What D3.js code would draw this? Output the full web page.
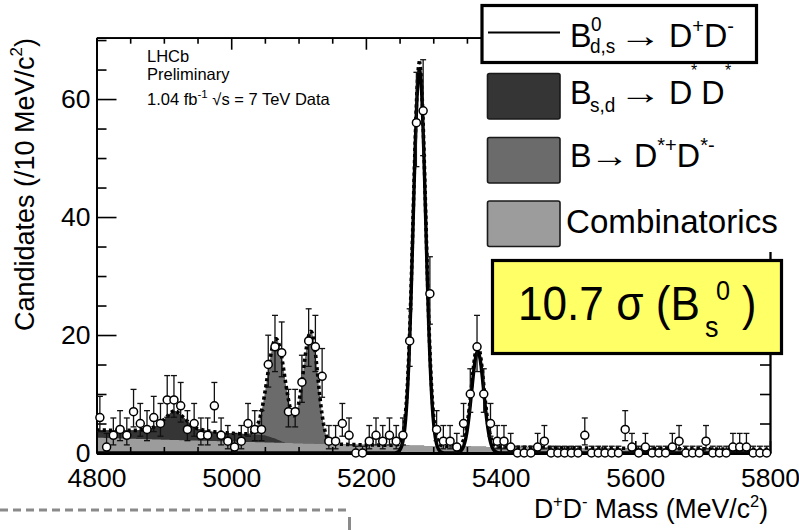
<!DOCTYPE html>
<html><head><meta charset="utf-8">
<script src="https://cdn.jsdelivr.net/npm/d3@7"></script>
<style>
html,body{margin:0;padding:0;background:#fff;}
svg{display:block;font-family:"Liberation Sans",Arial,Helvetica,sans-serif;}
</style></head><body>
<svg id="chart" width="799" height="530"></svg>
<script>
// ---- Data: D+D- invariant mass, 10 MeV/c^2 bins, 4800-5800 ----
const massRange = [4800, 5800];
const binWidth = 10;
const counts = [
  6, 1, 3, 4, 3, 7, 5, 4, 6, 5,
  9, 9, 8, 4, 5, 3, 3, 8, 3, 2,
  1, 2, 5, 4, 4, 15, 18, 17, 7, 7,
  12, 19, 18, 13, 2, 2, 5, 3, 0, 0,
  2, 3, 2, 3, 2, 3, 19, 56, 58, 27,
  4, 2, 2, 1, 5, 10, 18, 10, 5, 2,
  2, 1, 0, 0, 0, 1, 2, 0, 0, 0,
  0, 0, 3, 0, 0, 0, 0, 0, 4, 1,
  0, 1, 0, 0, 0, 1, 2, 0, 0, 0,
  2, 0, 0, 0, 1, 1, 1, 0, 0, 0
];

// ---- Fit components (candidates per 10 MeV/c^2) ----
// Combinatorial background level
const combMass  = [4800, 4900, 5000, 5100, 5200, 5300, 5400, 5500, 5600, 5700, 5800];
const combLevel = [2.6, 2.25, 1.95, 1.65, 1.38, 1.18, 1.0, 0.88, 0.78, 0.7, 0.62];
// Partially reconstructed B(s,d) -> D* D* component
const dsdMass  = [4800, 4830, 4860, 4880, 4890, 4900, 4910, 4915, 4920, 4930, 4940, 4950, 4970, 5000, 5030, 5050, 5065, 5080];
const dsdLevel = [1.3, 1.35, 1.45, 1.8, 2.4, 3.4, 4.6, 5.0, 4.8, 3.8, 2.7, 2.0, 1.6, 1.4, 1.3, 1.2, 0.7, 0];
// B -> D*+ D*- reflection peaks (asymmetric widths: low side, high side)
const dstarMass   = [5067, 5118.5];
const dstarSigmaL = [13, 12];
const dstarSigmaR = [13.5, 10];
const dstarHeight = [17, 19];
// B0 and Bs -> D+ D- signal peaks
const sigMass   = [5279.5, 5366];
const sigSigma  = [9.3, 9.0];
const sigHeight = [65, 17.2];

const yTop = 70.4;
const xMajor = [4800, 5000, 5200, 5400, 5600, 5800];
const yMajor = [0, 20, 40, 60];

// ---- Helpers ----
const gauss = (m, mu, s, h) => h * Math.exp(-0.5 * ((m - mu) / s) ** 2);
const bifurGauss = (m, mu, sl, sr, h) => gauss(m, mu, m < mu ? sl : sr, h);
const combAt = d3.scaleLinear().domain(combMass).range(combLevel).clamp(true);
const dsdAt  = d3.scaleLinear().domain(dsdMass).range(dsdLevel).clamp(true);
const dstarAt = m => d3.sum(dstarMass, (mu, i) => bifurGauss(m, mu, dstarSigmaL[i], dstarSigmaR[i], dstarHeight[i]));
const sigAt   = m => d3.sum(sigMass, (mu, i) => gauss(m, mu, sigSigma[i], sigHeight[i]));

// 68% Poisson interval (Gehrels approximation; RooFit convention for n = 0)
const poissonHi = n => n === 0 ? 1.148 : n + Math.sqrt(n + 0.75) + 1;
const poissonLo = n => n === 0 ? 0 : n * Math.pow(1 - 1 / (9 * n) - 1 / (3 * Math.sqrt(n)), 3);

// ---- Frame ----
const X0 = 96.5, X1 = 770, Y0 = 37.7, Y1 = 453;
const svg = d3.select('#chart');
const x = d3.scaleLinear().domain(massRange).range([X0, X1]);
const y = d3.scaleLinear().domain([0, yTop]).range([Y1, Y0]);

svg.append('defs').append('clipPath').attr('id', 'plotclip')
  .append('rect').attr('x', X0).attr('y', Y0).attr('width', X1 - X0).attr('height', Y1 - Y0);

const grid = d3.range(massRange[0], massRange[1] + 0.01, 1);
const model = grid.map(m => {
  const c = combAt(m), d = dsdAt(m), s = dstarAt(m), g = sigAt(m);
  return {m, comb: c, dsd: c + d, dstar: c + d + s, total: c + d + s + g, sig: g};
});

const plot = svg.append('g').attr('clip-path', 'url(#plotclip)');
const area = key => d3.area().x(d => x(d.m)).y0(y(0)).y1(d => y(d[key]));
plot.append('path').datum(model).attr('d', area('dstar')).attr('fill', '#6b6b6b');
plot.append('path').datum(model).attr('d', area('dsd')).attr('fill', '#353535');
plot.append('path').datum(model).attr('d', area('comb')).attr('fill', '#9c9c9c');

const line = key => d3.line().x(d => x(d.m)).y(d => y(d[key]));
plot.append('path').datum(model).attr('d', line('sig'))
  .attr('fill', 'none').attr('stroke', '#000').attr('stroke-width', 3.4);
plot.append('path').datum(model).attr('d', line('total'))
  .attr('fill', 'none').attr('stroke', '#000').attr('stroke-width', 3.6)
  .attr('stroke-dasharray', '3.2,3');

// ---- Axes ----
const xMinor = d3.range(massRange[0], massRange[1] + 1, 50).filter(v => !xMajor.includes(v));
const yMinor = d3.range(0, yTop, 5).filter(v => !yMajor.includes(v));

function styleAxis(g, width) {
  g.select('.domain').attr('stroke', '#000').attr('stroke-width', width);
  g.selectAll('.tick line').attr('stroke', '#000').attr('stroke-width', 1.6);
  g.selectAll('.tick text').attr('font-size', 26.5).attr('fill', '#000')
    .attr('font-family', '"Liberation Sans",Arial,sans-serif');
}
// bottom
const gB = svg.append('g').attr('transform', `translate(0,${Y1})`)
  .call(d3.axisBottom(x).tickValues(xMajor).tickSize(-12).tickSizeOuter(0)
    .tickPadding(15).tickFormat(d3.format('d')));
styleAxis(gB, 3);
const gBm = svg.append('g').attr('transform', `translate(0,${Y1})`)
  .call(d3.axisBottom(x).tickValues(xMinor).tickSize(-6).tickSizeOuter(0).tickFormat(''));
styleAxis(gBm, 3);
// top
const gT = svg.append('g').attr('transform', `translate(0,${Y0})`)
  .call(d3.axisTop(x).tickValues(xMajor).tickSize(-12).tickSizeOuter(0).tickFormat(''));
styleAxis(gT, 1.8);
const gTm = svg.append('g').attr('transform', `translate(0,${Y0})`)
  .call(d3.axisTop(x).tickValues(xMinor).tickSize(-6).tickSizeOuter(0).tickFormat(''));
styleAxis(gTm, 1.8);
// left
const gL = svg.append('g').attr('transform', `translate(${X0},0)`)
  .call(d3.axisLeft(y).tickValues(yMajor).tickSize(-20).tickSizeOuter(0)
    .tickPadding(6).tickFormat(d3.format('d')));
styleAxis(gL, 1.8);
const gLm = svg.append('g').attr('transform', `translate(${X0},0)`)
  .call(d3.axisLeft(y).tickValues(yMinor).tickSize(-10).tickSizeOuter(0).tickFormat(''));
styleAxis(gLm, 1.8);
// right
const gR = svg.append('g').attr('transform', `translate(${X1},0)`)
  .call(d3.axisRight(y).tickValues(yMajor).tickSize(-20).tickSizeOuter(0).tickFormat(''));
styleAxis(gR, 1.8);
const gRm = svg.append('g').attr('transform', `translate(${X1},0)`)
  .call(d3.axisRight(y).tickValues(yMinor).tickSize(-10).tickSizeOuter(0).tickFormat(''));
styleAxis(gRm, 1.8);

// ---- Data points with Poisson error bars ----
const pts = counts.map((n, i) => ({m: massRange[0] + binWidth * (i + 0.5), n}));
const gp = svg.append('g');
const bars = gp.selectAll('g.pt').data(pts).join('g').attr('class', 'pt');
bars.append('line')
  .attr('x1', d => x(d.m)).attr('x2', d => x(d.m))
  .attr('y1', d => y(poissonLo(d.n))).attr('y2', d => y(poissonHi(d.n)))
  .attr('stroke', '#111').attr('stroke-width', 1.3);
bars.append('line')
  .attr('x1', d => x(d.m) - 3).attr('x2', d => x(d.m) + 3)
  .attr('y1', d => y(poissonHi(d.n))).attr('y2', d => y(poissonHi(d.n)))
  .attr('stroke', '#111').attr('stroke-width', 1.3);
bars.filter(d => d.n > 0).append('line')
  .attr('x1', d => x(d.m) - 3).attr('x2', d => x(d.m) + 3)
  .attr('y1', d => y(poissonLo(d.n))).attr('y2', d => y(poissonLo(d.n)))
  .attr('stroke', '#111').attr('stroke-width', 1.3);
bars.append('circle')
  .attr('cx', d => x(d.m)).attr('cy', d => y(d.n)).attr('r', 4)
  .attr('fill', '#fff').attr('stroke', '#000').attr('stroke-width', 1.5);

// ---- Rich text helper: parts are [text, 'n'|'sup'|'sub', options] ----
function richText(parent, x0, y0, size, sx, parts, anchor) {
  const g = parent.append('g').attr('transform', `translate(${x0},${y0}) scale(${sx},1)`);
  const t = g.append('text').attr('font-size', size).attr('fill', '#000')
    .attr('text-anchor', anchor || 'start');
  let shift = 0;
  parts.forEach(p => {
    const [txt, kind, opt] = p;
    const o = opt || {};
    const sp = t.append('tspan').text(txt);
    let target = 0, fs = size;
    if (kind === 'sup') { target = -(o.rise || 0.42) * size; fs = (o.scale || 0.62) * size; }
    if (kind === 'sub') { target = (o.drop || 0.22) * size; fs = (o.scale || 0.62) * size; }
    sp.attr('dy', target - shift).attr('font-size', fs);
    if (o.dx !== undefined) sp.attr('dx', o.dx);
    shift = target;
  });
  return t;
}

// ---- Labels ----
svg.append('text').attr('x', 147).attr('y', 62).attr('font-size', 16.5).text('LHCb');
svg.append('text').attr('x', 147).attr('y', 80).attr('font-size', 16.5).text('Preliminary');
richText(svg, 147, 105, 16.5, 1, [['1.04 fb', 'n'], ['-1', 'sup', {rise: 0.45, scale: 0.7}], [' \u221As = 7 TeV Data', 'n']]);

// y-axis title
(function () {
  const g = svg.append('g').attr('transform', 'translate(34,38) rotate(-90)');
  const t = g.append('text').attr('font-size', 27).attr('text-anchor', 'end');
  t.append('tspan').text('Candidates (/10 MeV/c');
  t.append('tspan').text('2').attr('font-size', 17).attr('dy', -12);
  t.append('tspan').text(')').attr('dy', 12);
})();

// x-axis title
richText(svg, 768, 518, 28, 0.95, [
  ['D', 'n'], ['+', 'sup', {rise: 0.38}], ['D', 'n'], ['-', 'sup', {rise: 0.38}],
  [' Mass (MeV/c', 'n'], ['2', 'sup', {rise: 0.4}], [')', 'n']
], 'end');

// ---- Legend ----
svg.append('rect').attr('x', 481).attr('y', 0).attr('width', 318).attr('height', 252).attr('fill', '#fff');
svg.append('rect').attr('x', 482).attr('y', 5.5).attr('width', 274.5).attr('height', 57)
  .attr('fill', '#fff').attr('stroke', '#000').attr('stroke-width', 3.2);
svg.append('line').attr('x1', 488).attr('x2', 560).attr('y1', 32.5).attr('y2', 32.5)
  .attr('stroke', '#000').attr('stroke-width', 2);

const legendFills = ['#353535', '#6b6b6b', '#9c9c9c'];
const legendBoxTop = [73.5, 137.5, 201];
legendFills.forEach((c, i) => {
  svg.append('rect').attr('x', 487.5).attr('y', legendBoxTop[i]).attr('width', 72.5).attr('height', 45.5)
    .attr('rx', 2).attr('fill', c).attr('stroke', '#1a1a1a').attr('stroke-width', 1.6);
});

const LF = 34, LS = 0.95, SF = 20;
// entry 1: B0(d,s) -> D+ D-
richText(svg, 570, 47, LF, LS, [['B', 'n']]);
richText(svg, 591, 31, SF, LS, [['0', 'n']]);
richText(svg, 590, 53, SF, LS, [['d,s', 'n']]);
richText(svg, 619, 47, LF, 1.25, [['\u2192', 'n']]);
richText(svg, 669, 47, LF, LS, [['D', 'n'], ['+', 'sup', {rise: 0.42}], ['D', 'n'], ['-', 'sup', {rise: 0.42}]]);
// entry 2: B(s,d) -> D* D*
richText(svg, 570, 104, LF, LS, [['B', 'n']]);
richText(svg, 590, 112, SF, LS, [['s,d', 'n']]);
richText(svg, 619, 104, LF, 1.25, [['\u2192', 'n']]);
richText(svg, 669, 104, LF, LS, [['D D', 'n']]);
richText(svg, 691, 76, 16, 1, [['*', 'n']]);
richText(svg, 725, 76, 16, 1, [['*', 'n']]);
// entry 3: B -> D*+ D*-
richText(svg, 570, 167, LF, LS, [['B', 'n']]);
richText(svg, 590, 167, LF, 1.15, [['\u2192', 'n']]);
richText(svg, 634, 167, LF, LS, [['D', 'n'], ['*+', 'sup', {rise: 0.45}], ['D', 'n'], ['*-', 'sup', {rise: 0.45}]]);
// entry 4
richText(svg, 566, 233, LF, 0.975, [['Combinatorics', 'n']]);

// ---- Significance box ----
svg.append('rect').attr('x', 492.5).attr('y', 260.5).attr('width', 289).attr('height', 93)
  .attr('fill', '#ffff66').attr('stroke', '#000').attr('stroke-width', 3.2);
richText(svg, 518, 320, 48, 0.92, [['10.7 \u03C3 (B', 'n']]);
richText(svg, 705, 337, 30, 0.9, [['s', 'n']]);
richText(svg, 716, 300, 28, 0.9, [['0', 'n']]);
richText(svg, 742, 320, 48, 0.9, [[')', 'n']]);

// ---- Dashed rule below the chart ----
svg.append('line').attr('x1', 0).attr('x2', 350).attr('y1', 510).attr('y2', 510)
  .attr('stroke', '#8a8a8a').attr('stroke-width', 3).attr('stroke-dasharray', '8,5');
svg.append('line').attr('x1', 349.5).attr('x2', 349.5).attr('y1', 517).attr('y2', 530)
  .attr('stroke', '#8a8a8a').attr('stroke-width', 3);
</script>
</body></html>
